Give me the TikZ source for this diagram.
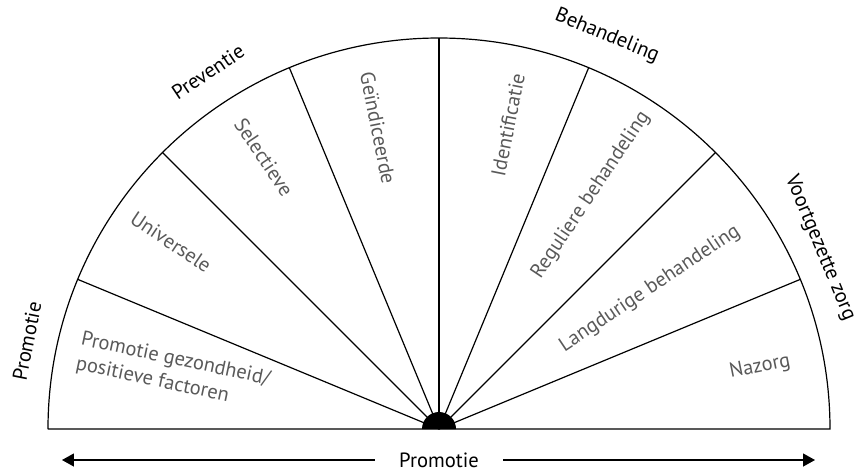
\documentclass[tikz,border=0pt]{standalone}
\usepackage{fontspec}
\setmainfont{PT Sans}
\usetikzlibrary{arrows.meta}

\tikzset{sector/.style={text=black!65,font=\fontsize{10.2}{12.5}\selectfont,inner sep=0pt},
         zone/.style={font=\fontsize{10.3}{12}\selectfont,inner sep=0pt}}

\begin{document}
\begin{tikzpicture}[x=0.5pt,y=0.5pt,line width=0.6pt]
		\useasboundingbox (-439,-44) rectangle (421,429);

		\coordinate (c) at (0,0);
		\coordinate (r0) at (0:391);
		\coordinate (r1) at (22.5:391);
		\coordinate (r2) at (45:391);
		\coordinate (r3) at (67.5:391);
		\coordinate (r4) at (90:391);
		\coordinate (r5) at (112.5:391);
		\coordinate (r6) at (135:391);
		\coordinate (r7) at (157.5:391);
		\coordinate (r8) at (180:391);

		\draw (r8) -- (r0) arc[start angle=0,end angle=180,radius=391];

		\draw (c) -- (r1);
		\draw (c) -- (r2);
		\draw (c) -- (r3);
		\draw (c) -- (r4);
		\draw (c) -- (r5);
		\draw (c) -- (r6);
		\draw (c) -- (r7);

		\fill (c) ++(17,0) arc[start angle=0,end angle=180,radius=17] -- cycle;

		\node[sector,align=left,rotate=-12] (s1) at (-266,57) {Promotie gezondheid/\\positieve factoren};
		\node[sector,rotate=-33.75] (s2) at (-268,187) {Universele};
		\node[sector,rotate=-56.25] (s3) at (-175,272) {Selectieve};
		\node[sector,rotate=-78.75] (s4) at (-61,301) {Geïndiceerde};
		\node[sector,rotate=78.75] (s5) at (69,304) {Identificatie};
		\node[sector,rotate=56.25] (s6) at (152,234) {Reguliere behandeling};
		\node[sector,rotate=33.75] (s7) at (211,140) {Langdurige behandeling};
		\node[sector,rotate=11.25] (s8) at (321,62) {Nazorg};

		\node[zone,rotate=78.75] (z1) at (-412,88) {Promotie};
		\node[zone,rotate=33.75] (z2) at (-231,357) {Preventie};
		\node[zone,rotate=-22.5] (z3) at (168,393) {Behandeling};
		\node[zone,rotate=-67.5] (z4) at (381,181) {Voortgezette zorg};

		\node[zone,inner xsep=12pt] (p) at (0,-31) {Promotie};
		\coordinate (pl) at (-377,-31);
		\coordinate (pr) at (376,-31);
		\draw[-{Triangle[length=6pt,width=6.5pt]}] (p) -- (pl);
		\draw[-{Triangle[length=6pt,width=6.5pt]}] (p) -- (pr);
\end{tikzpicture}
\end{document}
